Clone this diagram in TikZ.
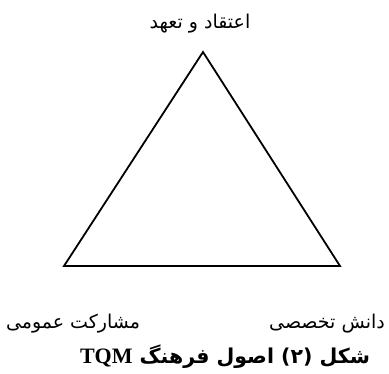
\documentclass[tikz,border=0pt]{standalone}
\usepackage{fontspec}
\TeXXeTstate=1
\newfontfamily\arabicfont[Script=Arabic]{DejaVu Sans}
\newfontfamily\latinbold{Liberation Serif}
\begin{document}
\begin{tikzpicture}[x=1pt,y=-1pt,
  lbl/.style={font=\arabicfont\fontsize{19}{22}\selectfont, inner sep=0pt},
  captionstyle/.style={font=\arabicfont\bfseries\fontsize{20.5}{24}\selectfont, inner sep=0pt},
  tri/.style={draw=black, line width=1.8pt, line join=miter}]
\useasboundingbox (0,0) rectangle (389,373);
\coordinate (A) at (203,52);
\coordinate (B) at (64,266);
\coordinate (C) at (340,266);
\draw[tri] (A) -- (B) -- (C) -- cycle;
\node[lbl] (top) at (200,24) {\beginR اعتقاد و تعهد\endR};
\node[lbl] (left) at (73,324) {\beginR مشارکت عمومی\endR};
\node[lbl] (right) at (327,324) {\beginR دانش تخصصی\endR};
\node[captionstyle] (caption) at (225,357) {\beginR شکل (۲) اصول فرهنگ \beginL{\latinbold\bfseries\fontsize{22}{24}\selectfont TQM}\endL\endR};
\end{tikzpicture}
\end{document}
